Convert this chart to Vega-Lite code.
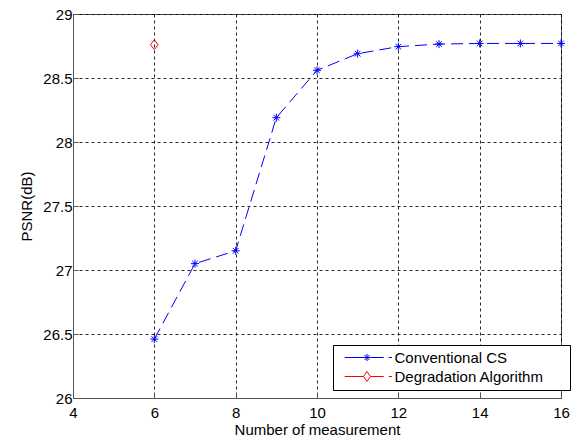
{
  "$schema": "https://vega.github.io/schema/vega-lite/v6.json",
  "width": 488,
  "height": 384,
  "autosize": "none",
  "padding": {"left": 73, "top": 14, "right": 17, "bottom": 46},
  "config": {
    "font": "Liberation Sans",
    "view": {"stroke": "#555", "strokeWidth": 1},
    "axis": {
      "labelFont": "Liberation Sans",
      "titleFont": "Liberation Sans",
      "labelFontSize": 15,
      "titleFontSize": 15,
      "titleFontWeight": "normal",
      "labelColor": "#000",
      "titleColor": "#000",
      "domainColor": "#555",
      "tickColor": "#555",
      "tickSize": -5,
      "grid": true,
      "gridColor": "#000",
      "gridDash": [3, 3],
      "gridOpacity": 0.85,
      "labelFlush": false,
      "labelOverlap": false
    }
  },
  "data": {
    "values": [
      {"series": "Conventional CS", "m": 6, "psnr": 26.46},
      {"series": "Conventional CS", "m": 7, "psnr": 27.05},
      {"series": "Conventional CS", "m": 8, "psnr": 27.15},
      {"series": "Conventional CS", "m": 9, "psnr": 28.19},
      {"series": "Conventional CS", "m": 10, "psnr": 28.56},
      {"series": "Conventional CS", "m": 11, "psnr": 28.69},
      {"series": "Conventional CS", "m": 12, "psnr": 28.745},
      {"series": "Conventional CS", "m": 13, "psnr": 28.765},
      {"series": "Conventional CS", "m": 14, "psnr": 28.77},
      {"series": "Conventional CS", "m": 15, "psnr": 28.77},
      {"series": "Conventional CS", "m": 16, "psnr": 28.77},
      {"series": "Degradation Algorithm", "m": 6, "psnr": 28.76}
    ]
  },
  "encoding": {
    "x": {
      "field": "m",
      "type": "quantitative",
      "scale": {"domain": [4, 16], "nice": false, "zero": false},
      "axis": {"values": [4, 6, 8, 10, 12, 14, 16], "title": "Number of measurement", "labelPadding": 12, "titlePadding": 2}
    },
    "y": {
      "field": "psnr",
      "type": "quantitative",
      "scale": {"domain": [26, 29], "nice": false, "zero": false},
      "axis": {"values": [26, 26.5, 27, 27.5, 28, 28.5, 29], "format": "~f", "title": "PSNR(dB)", "labelPadding": 6, "titlePadding": 8}
    }
  },
  "layer": [
    {
      "transform": [{"filter": "datum.series === 'Conventional CS'"}],
      "mark": {"type": "line", "color": "#0000ff", "strokeWidth": 1, "strokeDash": [12, 6]}
    },
    {
      "transform": [{"filter": "datum.series === 'Conventional CS'"}],
      "mark": {"type": "point", "color": "#0000ff", "filled": false, "strokeWidth": 1, "size": 64, "opacity": 1, "shape": "M-1,0H1M0,-1V1M-0.7,-0.7L0.7,0.7M-0.7,0.7L0.7,-0.7"}
    },
    {
      "transform": [{"filter": "datum.series === 'Degradation Algorithm'"}],
      "mark": {"type": "point", "color": "#ff0000", "filled": false, "strokeWidth": 1, "size": 64, "opacity": 1, "shape": "M0,-1.25L0.95,0L0,1.25L-0.95,0Z"}
    },
    {
      "transform": [{"filter": "false"}],
      "mark": {"type": "point", "filled": false, "strokeWidth": 1, "opacity": 1},
      "encoding": {
        "color": {
          "field": "series",
          "type": "nominal",
          "scale": {"domain": ["Conventional CS", "Degradation Algorithm"], "range": ["#0000ff", "#ff0000"]},
          "legend": {
            "orient": "none",
            "legendX": 260,
            "legendY": 331,
            "title": null,
            "padding": 5,
            "strokeColor": "#000",
            "fillColor": "#fff",
            "cornerRadius": 0,
            "symbolSize": 100,
            "symbolStrokeWidth": 1,
            "symbolOffset": 21.5,
            "labelOffset": 20,
            "labelFont": "Liberation Sans",
            "labelFontSize": 15,
            "labelColor": "#000",
            "rowPadding": 3,
            "labelLimit": 300
          }
        },
        "shape": {
          "field": "series",
          "type": "nominal",
          "scale": {"domain": ["Conventional CS", "Degradation Algorithm"], "range": ["M-5.4,0M-4.46,0H3.34M4.34,0H5M0,-0.7V0.7M-0.5,-0.5L0.5,0.5M-0.5,0.5L0.5,-0.5M39.2,0", "M-5.4,0M-4.46,0H-0.7M0.7,0H3.34M4.34,0H5M0,-1L0.7,0L0,1L-0.7,0ZM39.2,0"]}
        }
      }
    }
  ]
}
